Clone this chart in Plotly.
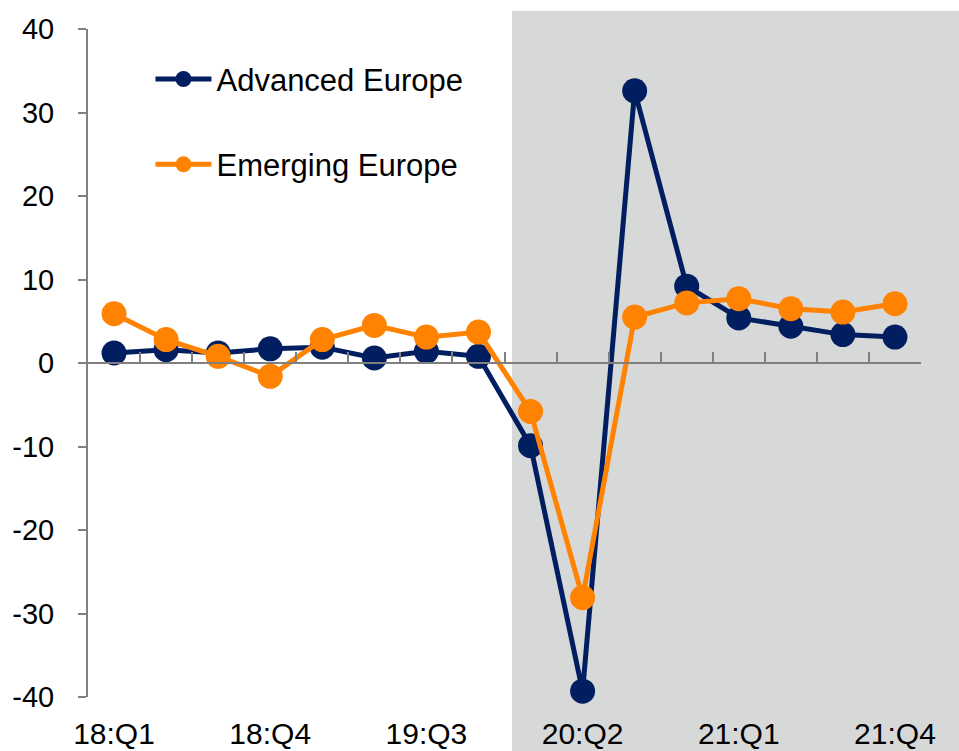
import plotly.graph_objects as go

# Quarterly growth, percent (annualised), 2018Q1-2021Q4
quarters = ["18:Q1", "18:Q2", "18:Q3", "18:Q4",
            "19:Q1", "19:Q2", "19:Q3", "19:Q4",
            "20:Q1", "20:Q2", "20:Q3", "20:Q4",
            "21:Q1", "21:Q2", "21:Q3", "21:Q4"]
advanced_europe = [1.2, 1.6, 1.2, 1.7, 1.9, 0.6, 1.4, 0.8,
                   -9.9, -39.3, 32.6, 9.2, 5.4, 4.4, 3.4, 3.1]
emerging_europe = [5.9, 2.8, 0.8, -1.6, 2.8, 4.5, 3.1, 3.7,
                   -5.8, -28.1, 5.5, 7.2, 7.7, 6.5, 6.1, 7.1]
shown_quarters = ["18:Q1", "18:Q4", "19:Q3", "20:Q2", "21:Q1", "21:Q4"]
y_ticks = [-40, -30, -20, -10, 0, 10, 20, 30, 40]
y_tick_text = ["-40", "-30", "-20", "-10", "0", "10", "20", "30", "40"]

NAVY = "#001E60"
ORANGE = "#FF8200"
AXIS_GREY = "#808080"
SHADE = "#D7D9D9"
FONT = "Liberation Sans, Arial, sans-serif"

fig = go.Figure()

# Invisible carrier so the zero-line category axis gets drawn
fig.add_trace(go.Scatter(
    x=quarters, y=[None] * len(quarters), xaxis="x2",
    mode="lines", showlegend=False, hoverinfo="skip",
))

fig.add_trace(go.Scatter(
    x=quarters, y=advanced_europe, name="Advanced Europe",
    mode="lines+markers", legendgroup="adv", cliponaxis=False,
    line=dict(color=NAVY, width=5),
    marker=dict(color=NAVY, size=25),
))
fig.add_trace(go.Scatter(
    x=quarters, y=emerging_europe, name="Emerging Europe",
    mode="lines+markers", legendgroup="emg", cliponaxis=False,
    line=dict(color=ORANGE, width=5),
    marker=dict(color=ORANGE, size=25),
))

# Pandemic period shading
fig.add_shape(
    type="rect", xref="paper", yref="paper",
    x0=0.509, x1=1.06, y0=-0.09, y1=1.027,
    fillcolor=SHADE, line=dict(width=0), layer="below",
)

fig.update_layout(
    width=959, height=751,
    margin=dict(l=88, r=38, t=29, b=54, autoexpand=False),
    paper_bgcolor="white",
    plot_bgcolor="rgba(0,0,0,0)",
    font=dict(family=FONT, size=29, color="black"),
    showlegend=True,
    legend=dict(
        x=0.075, y=0.965, xanchor="left", yanchor="top",
        bgcolor="rgba(0,0,0,0)", borderwidth=0,
        traceorder="grouped", tracegroupgap=42,
        font=dict(family=FONT, size=31, color="black"),
        itemwidth=56,
    ),
    xaxis=dict(
        type="category", categoryorder="array", categoryarray=quarters,
        range=[-0.5, 15.5], automargin=False,
        tickmode="array", tickvals=shown_quarters, ticktext=shown_quarters,
        showline=False, showgrid=False, zeroline=False, ticks="",
        ticklabelstandoff=16,
        tickfont=dict(family=FONT, size=30, color="black"),
    ),
    # Axis line drawn through zero, with category boundary ticks pointing up
    xaxis2=dict(
        type="category", categoryorder="array", categoryarray=quarters,
        overlaying="x", anchor="free", position=0.5,
        range=[-0.5, 15.5], automargin=False,
        tickson="boundaries",
        showticklabels=False, showgrid=False, zeroline=False,
        showline=True, linecolor=AXIS_GREY, linewidth=2,
        ticks="inside", ticklen=10, tickwidth=2, tickcolor=AXIS_GREY,
    ),
    yaxis=dict(
        range=[-40, 40], domain=[0, 1], automargin=False,
        tickmode="array", tickvals=y_ticks, ticktext=y_tick_text,
        showgrid=False, zeroline=False,
        showline=True, linecolor=AXIS_GREY, linewidth=2,
        ticks="outside", ticklen=8, tickwidth=2, tickcolor=AXIS_GREY,
        ticklabelstandoff=18,
        tickfont=dict(family=FONT, size=29, color="black"),
    ),
)

fig.write_html("out.html")
